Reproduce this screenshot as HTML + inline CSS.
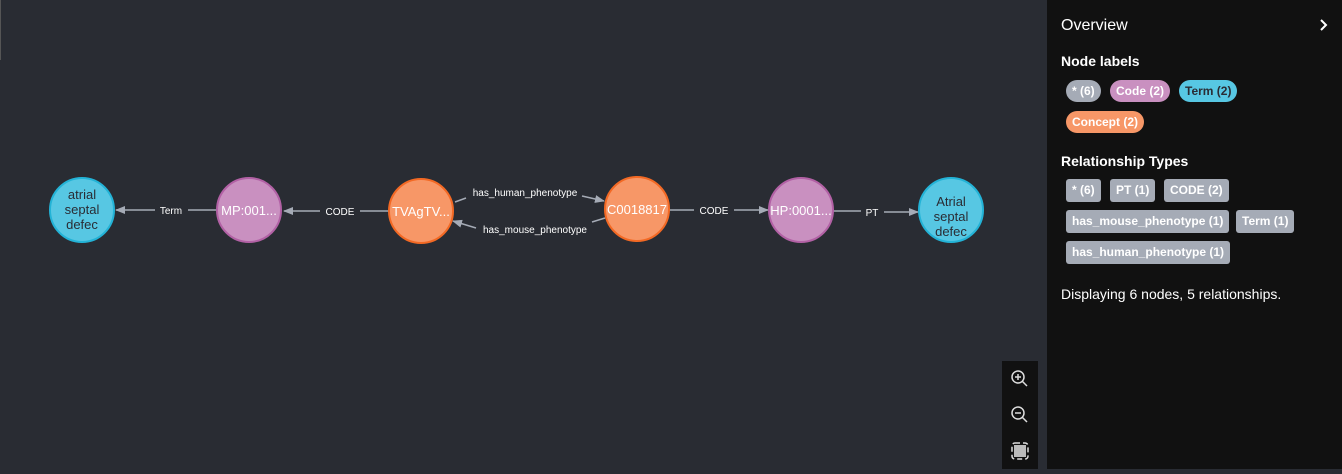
<!DOCTYPE html>
<html><head><style>
body{margin:0;width:1342px;height:469px;background:#292c33;overflow:hidden;font-family:"Liberation Sans",Arial,sans-serif;position:relative}
.panel{position:absolute;left:1047px;top:0;width:295px;height:469px;background:#111111;color:#fff}
.h{position:absolute;left:14px;font-weight:bold;font-size:14px}
.pill{position:absolute;height:22px;line-height:22px;font-size:12px;font-weight:bold;padding:0 6px;border-radius:11px;color:#fff;white-space:nowrap}
.tag{position:absolute;height:23px;line-height:23px;font-size:12px;font-weight:bold;padding:0 6px;border-radius:3px;background:#a5abb6;color:#fff;white-space:nowrap}
.tb{position:absolute;left:1002px;top:361px;width:36px;height:108px;background:#111}
</style></head><body>
<div style="position:absolute;left:0;top:0;width:1px;height:60px;background:#555"></div>
<svg width="1047" height="469" style="position:absolute;left:0;top:0" font-family="Liberation Sans, Arial, sans-serif">
<defs><marker id="a" markerWidth="10" markerHeight="8" refX="9" refY="4" orient="auto" markerUnits="userSpaceOnUse"><path d="M0,0 L10,4 L0,8 Z" fill="#a5abb6"/></marker></defs>
<g stroke="#a5abb6" stroke-width="1.5" fill="none">
<line x1="155" y1="210" x2="116" y2="210" marker-end="url(#a)"/>
<line x1="216" y1="210" x2="188" y2="210"/>
<line x1="320" y1="211" x2="284" y2="211" marker-end="url(#a)"/>
<line x1="389" y1="211" x2="360" y2="211"/>
<line x1="455" y1="202" x2="466" y2="198"/>
<line x1="582" y1="196" x2="604" y2="201" marker-end="url(#a)"/>
<line x1="605" y1="218" x2="592" y2="222"/>
<line x1="476" y1="228" x2="453" y2="221" marker-end="url(#a)"/>
<line x1="669" y1="210" x2="694" y2="210"/>
<line x1="734" y1="210" x2="768" y2="210" marker-end="url(#a)"/>
<line x1="833" y1="211" x2="861" y2="211"/>
<line x1="884" y1="212" x2="918" y2="212" marker-end="url(#a)"/>
</g>
<g font-size="10" fill="#fff" text-anchor="middle">
<text x="171" y="214">Term</text>
<text x="340" y="215">CODE</text>
<text x="525" y="196">has_human_phenotype</text>
<text x="535" y="233">has_mouse_phenotype</text>
<text x="714" y="214">CODE</text>
<text x="872" y="216">PT</text>
</g>
<circle cx="82" cy="210" r="32" fill="#57c7e3" stroke="#23b3d7" stroke-width="2"/>
<circle cx="249" cy="210" r="32" fill="#c990c0" stroke="#b261a5" stroke-width="2"/>
<circle cx="421" cy="211" r="32" fill="#f79767" stroke="#f36924" stroke-width="2"/>
<circle cx="637" cy="209" r="32" fill="#f79767" stroke="#f36924" stroke-width="2"/>
<circle cx="801" cy="210" r="32" fill="#c990c0" stroke="#b261a5" stroke-width="2"/>
<circle cx="951" cy="210" r="32" fill="#57c7e3" stroke="#23b3d7" stroke-width="2"/>
<g font-size="13" text-anchor="middle">
<text x="82" y="199" fill="#2a2c34">atrial</text><text x="82" y="214" fill="#2a2c34">septal</text><text x="82" y="229" fill="#2a2c34">defec</text>
<text x="249" y="215" fill="#fff">MP:001...</text>
<text x="421" y="216" fill="#fff">TVAgTV...</text>
<text x="637" y="214" fill="#fff">C0018817</text>
<text x="801" y="215" fill="#fff">HP:0001...</text>
<text x="951" y="206" fill="#2a2c34">Atrial</text><text x="951" y="221" fill="#2a2c34">septal</text><text x="951" y="236" fill="#2a2c34">defec</text>
</g>
</svg>
<div class="tb">
<svg width="36" height="108" fill="none" stroke="#ddd" stroke-width="1.5">
<circle cx="16" cy="16" r="6"/><line x1="20.5" y1="20.5" x2="25" y2="25"/><line x1="13" y1="16" x2="19" y2="16"/><line x1="16" y1="13" x2="16" y2="19"/>
<circle cx="16" cy="52" r="6"/><line x1="20.5" y1="56.5" x2="25" y2="61"/><line x1="13" y1="52" x2="19" y2="52"/>
<rect x="12" y="84" width="12" height="12" fill="#bbb" stroke="none"/><rect x="10" y="82" width="16" height="16" rx="3" stroke-dasharray="5 3"/>
</svg></div>
<div class="panel">
<div style="position:absolute;left:14px;top:17px;font-size:16px">Overview</div>
<svg style="position:absolute;left:272px;top:18px" width="10" height="14"><path d="M2,2 L7,7 L2,12" stroke="#fff" stroke-width="2" fill="none"/></svg>
<div class="h" style="top:53px">Node labels</div>
<div class="pill" style="left:19px;top:80px;background:#a5abb6">* (6)</div>
<div class="pill" style="left:63px;top:80px;background:#c990c0">Code (2)</div>
<div class="pill" style="left:132px;top:80px;background:#57c7e3;color:#2a2c34">Term (2)</div>
<div class="pill" style="left:19px;top:111px;background:#f79767">Concept (2)</div>
<div class="h" style="top:153px">Relationship Types</div>
<div class="tag" style="left:19px;top:179px">* (6)</div>
<div class="tag" style="left:63px;top:179px">PT (1)</div>
<div class="tag" style="left:117px;top:179px">CODE (2)</div>
<div class="tag" style="left:19px;top:210px">has_mouse_phenotype (1)</div>
<div class="tag" style="left:189px;top:210px">Term (1)</div>
<div class="tag" style="left:19px;top:241px">has_human_phenotype (1)</div>
<div style="position:absolute;left:14px;top:286px;font-size:14px">Displaying 6 nodes, 5 relationships.</div>
</div>
</body></html>
